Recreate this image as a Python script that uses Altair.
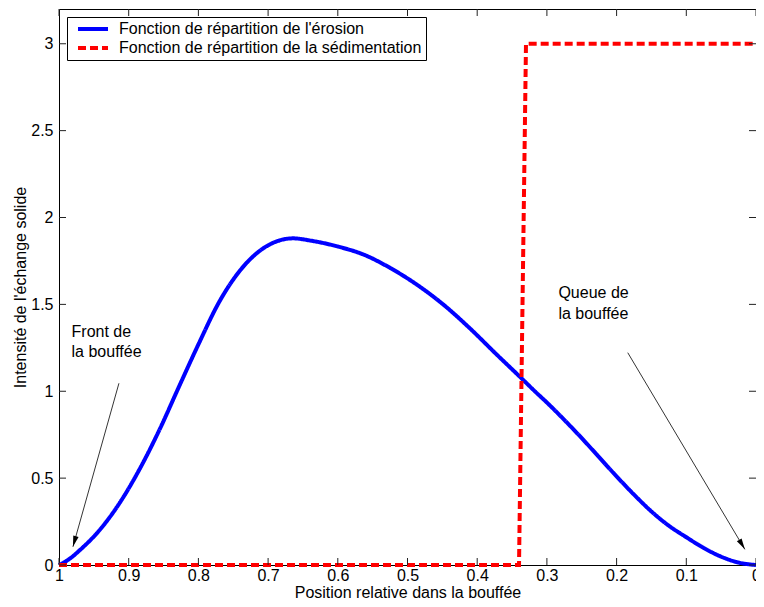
import math
import altair as alt
import pandas as pd

# ---------------- data ----------------
erosion_x = [1.0, 0.985, 0.970, 0.942, 0.913, 0.885, 0.856, 0.828, 0.799, 0.771,
             0.743, 0.714, 0.686, 0.664, 0.639, 0.600, 0.562, 0.525, 0.486, 0.448,
             0.411, 0.373, 0.334, 0.316, 0.300, 0.275, 0.250, 0.225, 0.200, 0.175,
             0.150, 0.125, 0.100, 0.075, 0.050, 0.025, 0.0]
erosion_y = [0.0, 0.035, 0.086, 0.200, 0.357, 0.547, 0.777, 1.025, 1.278, 1.508,
             1.681, 1.802, 1.865, 1.880, 1.867, 1.833, 1.785, 1.710, 1.612, 1.497,
             1.364, 1.215, 1.065, 0.995, 0.935, 0.835, 0.730, 0.620, 0.510, 0.405,
             0.308, 0.226, 0.160, 0.098, 0.048, 0.014, 0.0]

sed_x = [1.0, 0.34, 0.33, 0.0]
sed_y = [0.0, 0.0, 3.0, 3.0]

series_names = ["Fonction de répartition de l'érosion",
                "Fonction de répartition de la sédimentation"]
series_colors = ["#0000ff", "#ff0000"]
series_dash = [[1, 0], [8, 4]]

x_ticks = [1.0, 0.9, 0.8, 0.7, 0.6, 0.5, 0.4, 0.3, 0.2, 0.1, 0.0]
y_ticks = [0.0, 0.5, 1.0, 1.5, 2.0, 2.5, 3.0]

x_title = "Position relative dans la bouffée"
y_title = "Intensité de l'échange solide"

note_text = ["Front de", "la bouffée", "Queue de", "la bouffée"]
note_x = [0.982, 0.982, 0.2835, 0.2835]
note_y = [1.314, 1.196, 1.535, 1.415]

arrow_x1 = [0.914, 0.184]
arrow_y1 = [1.046, 1.222]
arrow_x2 = [0.980, 0.016]
arrow_y2 = [0.105, 0.090]

# ---------------- layout ----------------
W, H = 697, 556
X_DOM = [0.0, 1.0]
Y_DOM = [0.0, 3.2]
FONT = "Liberation Sans"
FS = 16
TICK = 7

df = pd.DataFrame({
    "x": erosion_x + sed_x,
    "y": erosion_y + sed_y,
    "serie": [series_names[0]] * len(erosion_x) + [series_names[1]] * len(sed_x),
})

xs = alt.Scale(domain=X_DOM, reverse=True, nice=False, zero=False)
ys = alt.Scale(domain=Y_DOM, nice=False, zero=False)

legend = alt.Legend(
    title=None, orient="none", legendX=8, legendY=8,
    symbolType="stroke", symbolSize=900, symbolStrokeWidth=4, symbolOffset=5,
    labelFont=FONT, labelFontSize=FS, labelColor="black", labelLimit=500,
    labelOffset=9, rowPadding=3, padding=4, clipHeight=16,
    strokeColor="black", fillColor="white", cornerRadius=0,
)

color = alt.Color("serie:N", scale=alt.Scale(domain=series_names, range=series_colors), legend=legend)
dash = alt.StrokeDash("serie:N", scale=alt.Scale(domain=series_names, range=series_dash), legend=legend)

x_axis = alt.Axis(values=x_ticks, format="~g", ticks=False, domain=False, grid=False,
                  title=x_title, labelFont=FONT, labelFontSize=FS, labelColor="black",
                  labelPadding=2, titleFont=FONT, titleFontSize=FS, titleFontWeight="normal",
                  titleColor="black", titleY=32, titleBaseline="alphabetic", labelFlush=False)
y_axis = alt.Axis(values=y_ticks, format="~g", ticks=False, domain=False, grid=False,
                  title=y_title, labelFont=FONT, labelFontSize=FS, labelColor="black",
                  labelPadding=6, titleFont=FONT, titleFontSize=FS, titleFontWeight="normal",
                  titleColor="black", titleX=-39, titleBaseline="middle")


def X(field):
    return alt.X(field, scale=xs, axis=x_axis)


def Y(field):
    return alt.Y(field, scale=ys, axis=y_axis)


blue = alt.Chart(df).transform_filter(alt.datum.serie == series_names[0]).mark_line(
    strokeWidth=4, interpolate="monotone", strokeCap="butt"
).encode(x=X("x:Q"), y=Y("y:Q"), color=color, strokeDash=dash)

red = alt.Chart(df).transform_filter(alt.datum.serie == series_names[1]).mark_line(
    strokeWidth=4, strokeCap="butt"
).encode(x=X("x:Q"), y=Y("y:Q"), color=color, strokeDash=dash)

xt = pd.DataFrame({"x": x_ticks})
yt = pd.DataFrame({"y": y_ticks})
tick_style = dict(color="#222222", strokeWidth=1)
xt_bottom = alt.Chart(xt).mark_rule(**tick_style).encode(
    x=X("x:Q"), y=alt.value(H), y2=alt.value(H - TICK))
xt_top = alt.Chart(xt).mark_rule(**tick_style).encode(
    x=X("x:Q"), y=alt.value(0), y2=alt.value(TICK))
yt_left = alt.Chart(yt).mark_rule(**tick_style).encode(
    y=Y("y:Q"), x=alt.value(0), x2=alt.value(TICK))
yt_right = alt.Chart(yt).mark_rule(**tick_style).encode(
    y=Y("y:Q"), x=alt.value(W), x2=alt.value(W - TICK))

notes = pd.DataFrame({"x": note_x, "y": note_y, "t": note_text})
text = alt.Chart(notes).mark_text(
    align="left", baseline="alphabetic", font=FONT, fontSize=FS, color="black"
).encode(x=X("x:Q"), y=Y("y:Q"), text="t:N")

# arrow direction in pixel space (x axis reversed)
angles = []
for xa, ya, xb, yb in zip(arrow_x1, arrow_y1, arrow_x2, arrow_y2):
    dx = -(xb - xa) / (X_DOM[1] - X_DOM[0]) * W
    dy = -(yb - ya) / (Y_DOM[1] - Y_DOM[0]) * H
    n = math.hypot(dx, dy)
    sx, sy = dx / n, dy / n
    angles.append((math.degrees(math.atan2(sx, -sy)) + 360) % 360)

arrows = pd.DataFrame({"x": arrow_x1, "y": arrow_y1, "x2": arrow_x2,
                       "y2": arrow_y2, "angle": angles})
arrow_lines = alt.Chart(arrows).mark_rule(color="black", strokeWidth=0.8).encode(
    x=X("x:Q"), y=Y("y:Q"), x2="x2:Q", y2="y2:Q")
arrow_heads = alt.Chart(arrows).transform_calculate(
    px="datum.x2", py="datum.y2"
).mark_point(
    shape="M0,0L-0.55,2.2L0.55,2.2Z", filled=True, size=100, color="black", opacity=1
).encode(x=X("px:Q"), y=Y("py:Q"), angle=alt.Angle("angle:Q", scale=None))

chart = alt.layer(
    blue, red, xt_bottom, xt_top, yt_left, yt_right, text, arrow_lines, arrow_heads
).properties(
    width=W, height=H,
    autosize=alt.AutoSizeParams(type="none"),
    padding={"left": 51, "top": 1, "right": 0, "bottom": 34},
    background="white",
).configure_view(stroke="black", strokeWidth=1)

chart.save("out.html", embed_options={"renderer": "svg", "actions": False})
